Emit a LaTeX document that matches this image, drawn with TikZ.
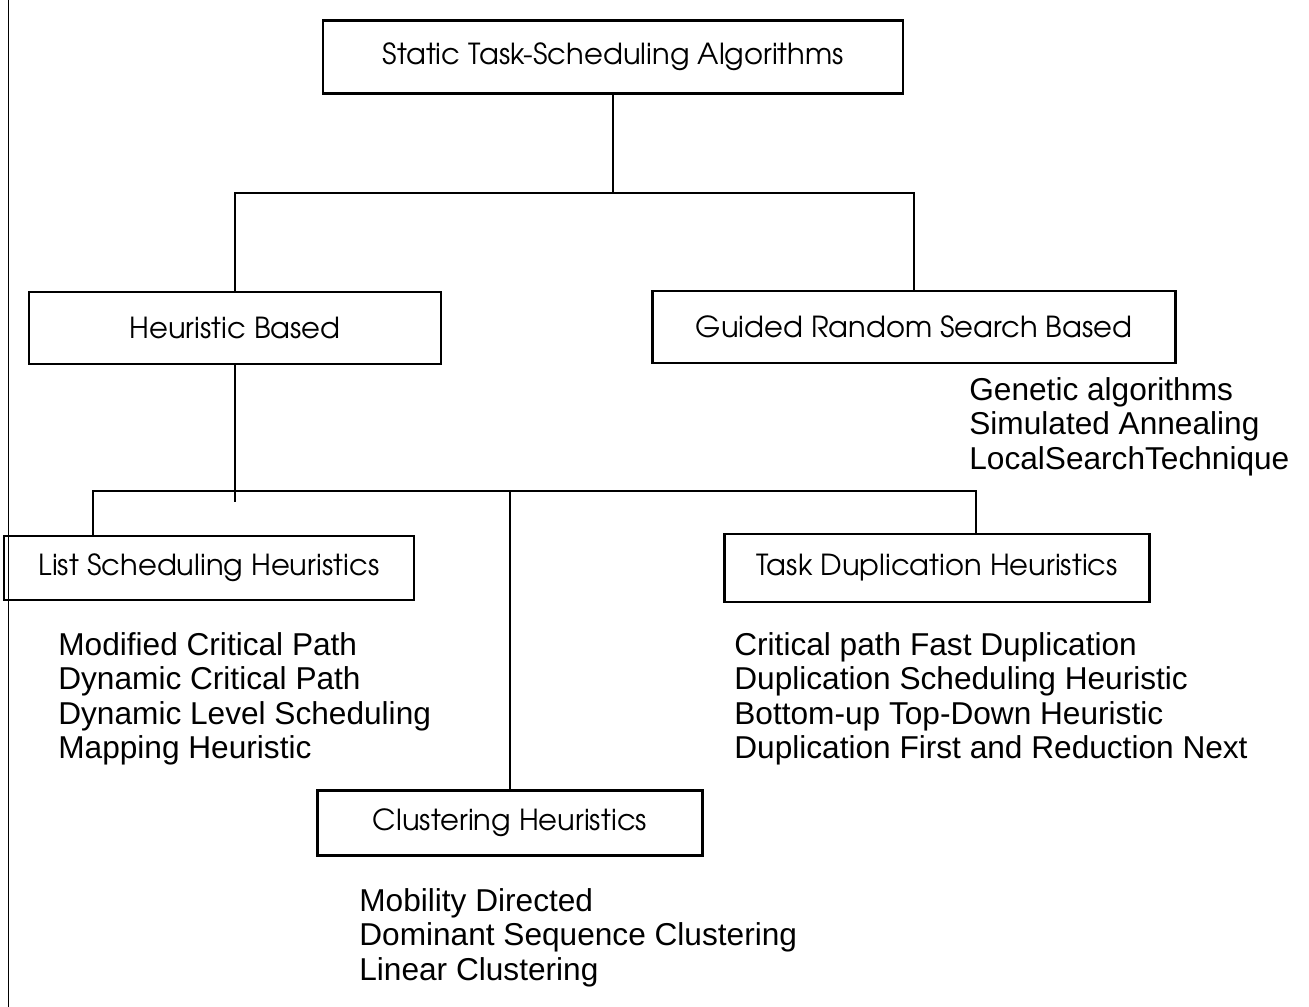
\documentclass[tikz,border=0pt]{standalone}
\usepackage{fontspec}
\setmainfont{Liberation Sans}
\newfontfamily\boxfont{TeX Gyre Adventor}
\usetikzlibrary{positioning}

\begin{document}
\begin{tikzpicture}[x=0.02cm, y=-0.02cm,
  box/.style={draw, line width=1.4pt, inner sep=0pt, font=\boxfont\fontsize{16.5}{20}\selectfont},
  items/.style={anchor=north west, inner sep=0pt, align=left, font=\fontsize{18}{19.6}\selectfont},
  link/.style={line width=1pt}]
  \useasboundingbox (0,0) rectangle (1309,1007);
  % edge of the scanned page
  \draw[line width=0.5pt] (8,0) -- (8,1007);

  \node[box, minimum width=11.6cm, minimum height=1.46cm] (top) at (613,57) {Static Task-Scheduling Algorithms};
  \node[box, minimum width=8.24cm, minimum height=1.44cm] (heur) at (235,328) {Heuristic Based};
  \node[box, minimum width=10.46cm, minimum height=1.44cm] (guid) at (914,327) {Guided Random Search Based};
  \node[box, minimum width=8.2cm, minimum height=1.28cm] (list) at (209,568) {List Scheduling Heuristics};
  \node[box, minimum width=8.5cm, minimum height=1.36cm] (task) at (937,568) {Task Duplication Heuristics};
  \node[box, minimum width=7.7cm, minimum height=1.3cm] (clust) at (510,823) {Clustering Heuristics};

  \node[items] (searchitems) at (969,377) {Genetic algorithms\\Simulated Annealing\\LocalSearchTechnique};
  \node[items] (listitems) at (58,632) {Modified Critical Path\\Dynamic Critical Path\\Dynamic Level Scheduling\\Mapping Heuristic};
  \node[items] (taskitems) at (734,632) {Critical path Fast Duplication\\Duplication Scheduling Heuristic\\Bottom-up Top-Down Heuristic\\Duplication First and Reduction Next};
  \node[items] (clustitems) at (359,888) {Mobility Directed\\Dominant Sequence Clustering\\Linear Clustering};

  % buses
  \coordinate (b1) at (0,193);
  \coordinate (b2l) at (93,491);
  \coordinate (b2r) at (976,491);
  \coordinate (stub) at (0,502);

  \draw[link] (top.south) -- (top.south |- b1);
  \draw[link] (heur.north) |- (guid.north |- b1) -- (guid.north);
  \draw[link] (heur.south) -- (heur.south |- stub);
  \draw[link] (list.north -| b2l) -- (b2l) -- (b2r) -- (task.north -| b2r);
  \draw[link] (clust.north) -- (clust.north |- b2l);
\end{tikzpicture}
\end{document}
